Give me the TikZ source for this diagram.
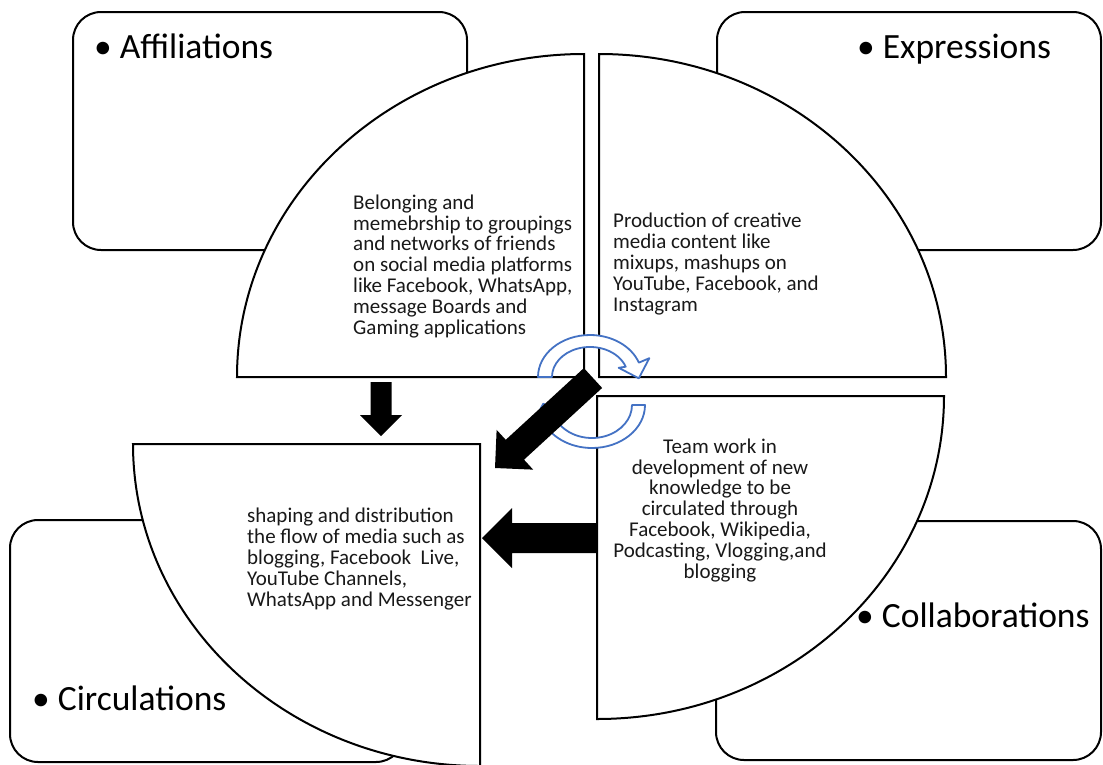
\documentclass[tikz,border=0pt]{standalone}
\usepackage{fontspec}
\setmainfont{Carlito}
\usetikzlibrary{calc}
\definecolor{accentblue}{HTML}{4472C4}
\newcommand\myblockarrow[6]{% #1 tail, #2 tip, #3 shaft half width, #4 head length, #5 head half width, #6 name
  \coordinate (#6h) at ($(#2)!#4!(#1)$);
  \fill[black] ($(#1)!#3!90:(#2)$) -- ($(#6h)!#3!90:(#2)$) -- ($(#6h)!#5!90:(#2)$) -- (#2)
    -- ($(#6h)!#5!-90:(#2)$) -- ($(#6h)!#3!-90:(#2)$) -- ($(#1)!#3!-90:(#2)$) -- cycle;}
\begin{document}
\begin{tikzpicture}[x=1pt,y=-1pt,
  cardbox/.style={draw=black, line width=2pt, rounded corners=28pt, fill=white},
  quarter/.style={draw=black, line width=2pt, fill=white},
  bluearrow/.style={draw=accentblue, line width=1.8pt, fill=white, line join=round},
  heading/.style={font=\fontsize{35.5}{41}\selectfont, anchor=base west, inner sep=0pt},
  bodytext/.style={font=\fontsize{21}{20.8}\selectfont, inner sep=0pt, text=black!90}]
\useasboundingbox (0,0) rectangle (1103,764);
% corner cards
\draw[cardbox] (73,12) rectangle (467,250);
\draw[cardbox] (717,12) rectangle (1101,250);
\draw[cardbox] (10,520) rectangle (404,762);
\draw[cardbox] (716,521) rectangle (1101,760);
% quarter shapes
\draw[quarter] (584,377) -- (237,377) arc[start angle=180, end angle=270, x radius=347, y radius=323] -- cycle;
\draw[quarter] (599,377) -- (599,54) arc[start angle=270, end angle=360, x radius=347, y radius=323] -- cycle;
\draw[quarter] (597,396) -- (944,396) arc[start angle=0, end angle=90, x radius=347, y radius=323] -- cycle;
\draw[quarter] (480,444) -- (480,766) arc[start angle=90, end angle=180, x radius=347, y radius=322] -- cycle;
% headings
\node[heading] (aff) at (94,58) {• Affiliations};
\node[heading] (exp) at (857,58) {• Expressions};
\node[heading] (col) at (856,627) {• Collaborations};
\node[heading] (cir) at (32,710) {• Circulations};
% body texts (base anchor = baseline of the last line)
\node[bodytext, anchor=base west, align=left] (t1) at (353,334) {Belonging and\\memebrship to groupings\\and networks of friends\\on social media platforms\\like Facebook, WhatsApp,\\message Boards and\\Gaming applications};
\node[bodytext, anchor=base west, align=left] (t2) at (613,311) {Production of creative\\media content like\\mixups, mashups on\\YouTube, Facebook, and\\Instagram};
\node[bodytext, anchor=base, align=center] (t3) at (720,578) {Team work in\\development of new\\knowledge to be\\circulated through\\Facebook, Wikipedia,\\Podcasting, Vlogging,and\\blogging};
\node[bodytext, anchor=base west, align=left] (t4) at (247,606) {shaping and distribution\\the flow of media such as\\blogging, Facebook\ \ Live,\\YouTube Channels,\\WhatsApp and Messenger};
% blue cycle arrows
\draw[bluearrow] (538,377) arc[start angle=180, end angle=340, x radius=52, y radius=42]
  -- (649.3,358.2) -- (638.8,378.3) -- (618.7,367.8) -- (625.7,366.7)
  arc[start angle=340, end angle=180, x radius=38, y radius=30] -- cycle;
\draw[bluearrow] (645,405) arc[start angle=0, end angle=160, x radius=53, y radius=43]
  -- (532.7,423.8) -- (543.2,403.7) -- (563.3,414.2) -- (554.4,416.3)
  arc[start angle=160, end angle=0, x radius=40, y radius=33] -- cycle;
% black block arrows
\coordinate (downtail) at (381,382);
\coordinate (downtip) at (381,436);
\coordinate (diagtail) at (593,378);
\coordinate (diagtip) at (495,468);
\coordinate (lefttail) at (597,538);
\coordinate (lefttip) at (482,538);
\myblockarrow{downtail}{downtip}{10.5pt}{21pt}{21pt}{da}
\myblockarrow{diagtail}{diagtip}{13.5pt}{27pt}{27pt}{ga}
\myblockarrow{lefttail}{lefttip}{15pt}{30pt}{30pt}{la}
\end{tikzpicture}
\end{document}
